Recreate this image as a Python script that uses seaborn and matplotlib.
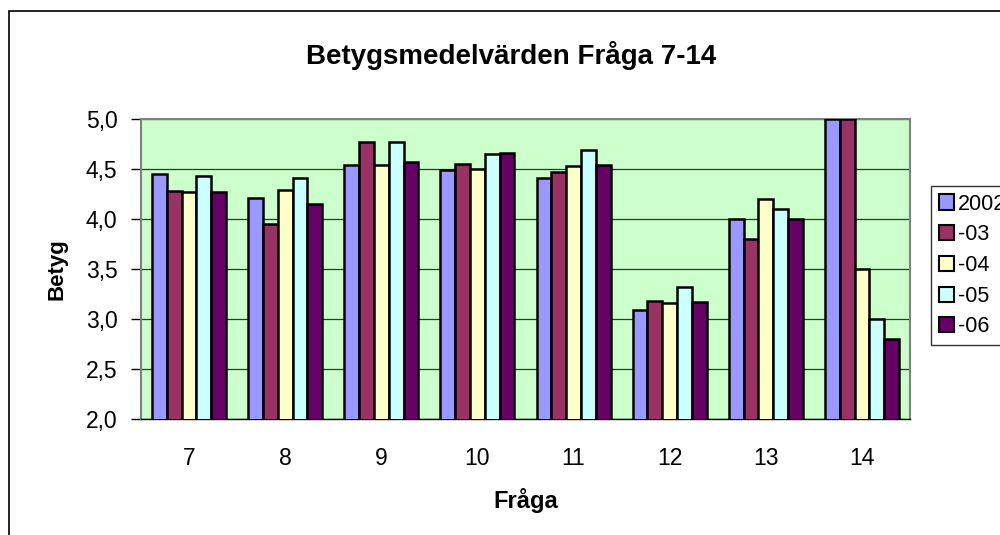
import numpy as np
import pandas as pd
import matplotlib
matplotlib.use('Agg')
import matplotlib.pyplot as plt
import matplotlib.patches as mpatches
import matplotlib.ticker as mticker
import seaborn as sns

fragor = ['7', '8', '9', '10', '11', '12', '13', '14']
ar     = ['2002', '-03', '-04', '-05', '-06']

v2002 = [4.45, 4.21, 4.54, 4.49, 4.41, 3.09, 4.00, 5.00]
v03   = [4.28, 3.95, 4.77, 4.55, 4.47, 3.18, 3.80, 5.00]
v04   = [4.27, 4.29, 4.54, 4.50, 4.53, 3.16, 4.20, 3.50]
v05   = [4.43, 4.41, 4.77, 4.65, 4.69, 3.32, 4.10, 3.00]
v06   = [4.27, 4.15, 4.57, 4.66, 4.54, 3.17, 4.00, 2.80]

farger = ['#9999FF', '#993366', '#FFFFCC', '#CCFFFF', '#660066']

serier = [v2002, v03, v04, v05, v06]
df = pd.DataFrame({
    'Fråga': np.tile(fragor, len(ar)),
    'År':    np.repeat(ar, len(fragor)),
    'Betyg': np.concatenate(serier),
})

sns.set_style('white')
plt.rcParams['font.family'] = ['Liberation Sans', 'DejaVu Sans']
plt.rcParams['text.color'] = 'black'
plt.rcParams['axes.labelcolor'] = 'black'
plt.rcParams['xtick.color'] = 'black'
plt.rcParams['ytick.color'] = 'black'

fig = plt.figure(figsize=(10, 5.35), dpi=100)
ax = fig.add_axes([0.141, 0.2168, 0.769, 0.5607])
ax.set_facecolor('#CCFFCC')

sns.barplot(data=df, x='Fråga', y='Betyg', hue='År', order=fragor, hue_order=ar,
            palette=farger, width=0.77, gap=0, edgecolor='black', linewidth=1.8,
            saturation=1, legend=False, ax=ax, zorder=3)

ax.set_ylim(2.0, 5.0)
ax.set_xlim(-0.5, len(fragor) - 0.5)
ax.yaxis.set_major_locator(mticker.MultipleLocator(0.5))
ax.yaxis.set_major_formatter(mticker.FuncFormatter(lambda v, p: f'{v:.1f}'.replace('.', ',')))
ax.grid(axis='y', color='#333333', linewidth=0.9, zorder=0)
ax.set_axisbelow(True)

# kategorietiketter mitt i gruppen, tickstreck mellan grupperna
ax.xaxis.set_minor_locator(mticker.FixedLocator(np.arange(-0.5, len(fragor), 1.0)))
ax.tick_params(axis='x', which='major', length=0, pad=20, labelsize=16.5)
ax.tick_params(axis='x', which='minor', length=7, width=1, color='black', direction='out')
ax.tick_params(axis='y', which='major', length=7, width=1, color='black', direction='out',
               pad=10, labelsize=16.5, left=True)

for s in ax.spines.values():
    s.set_color('#808080')
    s.set_linewidth(1.5)
ax.spines['bottom'].set_color('black')
ax.spines['bottom'].set_linewidth(1.0)

ax.set_xlabel('Fråga', fontsize=17, fontweight='bold')
ax.set_ylabel('Betyg', fontsize=16, fontweight='bold')
ax.xaxis.set_label_coords(0.5, -0.23)
ax.yaxis.set_label_coords(-0.095, 0.5)

fig.text(0.511, 1 - 55 / 535, 'Betygsmedelvärden Fråga 7-14', ha='center', va='center',
         fontsize=20, fontweight='bold')

handles = [mpatches.Patch(facecolor=c, edgecolor='black', linewidth=1.5) for c in farger]
leg = fig.legend(handles, ar, loc='upper left', bbox_to_anchor=(0.931, 1 - 186 / 535),
                 fontsize=15.5, frameon=True, fancybox=False, edgecolor='black',
                 handlelength=0.7, handleheight=0.7, handletextpad=0.2,
                 labelspacing=0.45, borderpad=0.35, borderaxespad=0)
leg.get_frame().set_linewidth(1.0)

fig.patches.append(mpatches.Rectangle((0.009, -0.1), 1.2, 1 - 11 / 535 + 0.1,
                                      transform=fig.transFigure, fill=False,
                                      edgecolor='black', linewidth=1.2))

fig.savefig('out.png', dpi=100)
